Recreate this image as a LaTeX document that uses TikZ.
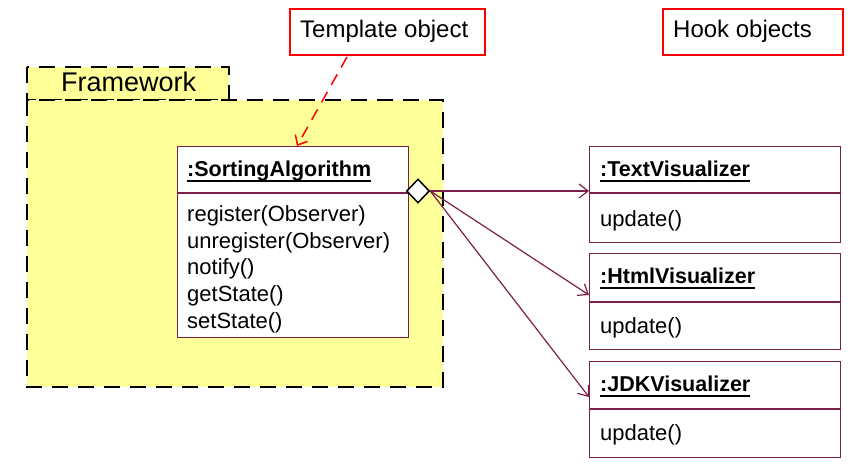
\documentclass[tikz,border=0pt]{standalone}
\usepackage{fontspec}
\setmainfont{Liberation Sans}
\usetikzlibrary{arrows.meta,shapes.geometric}
\definecolor{umlc}{RGB}{122,30,74}
\definecolor{pkgy}{RGB}{255,255,153}
\newcommand\myul[1]{\setbox0\hbox{#1}\rlap{\rule[-5.5pt]{\wd0}{1.8pt}}\box0}
\newcommand\fs[1]{\fontsize{#1}{#1}\selectfont}
\begin{document}
\begin{tikzpicture}[x=1pt,y=-1pt,
  pkg/.style={draw=black, line width=2pt, dash pattern=on 16pt off 10pt, fill=pkgy},
  objbox/.style={draw=umlc, line width=1.3pt, fill=white, rectangle, anchor=north west, inner sep=0pt, minimum width=251pt, minimum height=96pt},
  divline/.style={draw=umlc, line width=2pt},
  titletxt/.style={anchor=base west, inner sep=0pt, font=\fs{21.5}\bfseries},
  methtxt/.style={anchor=base west, inner sep=0pt, font=\fs{22}},
  callout/.style={draw=red, line width=1.5pt, fill=white, rectangle, anchor=north west, inner sep=0pt},
  callouttxt/.style={anchor=west, inner sep=0pt, font=\fs{24}},
  assoc/.style={draw=umlc, line width=1.2pt, -{Straight Barb[length=9pt,width=14pt,line width=1.2pt]}},
  note/.style={draw=red, line width=1.5pt, dash pattern=on 12pt off 8pt, -{Straight Barb[length=8pt,width=14pt,line width=1.5pt]}}
]
\useasboundingbox (0,0) rectangle (868,469);

% package
\path[pkg] (27,67) rectangle (229,100);
\path[pkg] (27,100) rectangle (443,387);
\node[anchor=base west, inner sep=0pt, font=\fs{27}] (fwlabel) at (61,91) {Framework};

% callouts
\node[callout, minimum width=195pt, minimum height=46pt] (tmpl) at (289,8) {};
\node[callouttxt] (tmpltxt) at (300,31) {Template object};
\node[callout, minimum width=180pt, minimum height=46pt] (hook) at (662,8) {};
\node[callouttxt] (hooktxt) at (673,31) {Hook objects};

% SortingAlgorithm
\node[objbox, minimum width=231pt, minimum height=191pt] (sa) at (177,146) {};
\coordinate (sadivl) at (177,193);
\coordinate (sadivr) at (408,193);
\draw[divline] (sadivl) -- (sadivr);
\node[titletxt] (satitle) at (187,176) {\myul{:SortingAlgorithm}};
\node[methtxt] (m1) at (187,221) {register(Observer)};
\node[methtxt] (m2) at (187,248) {unregister(Observer)};
\node[methtxt] (m3) at (187,274) {notify()};
\node[methtxt] (m4) at (187,301) {getState()};
\node[methtxt] (m5) at (187,328) {setState()};

% note arrow
\coordinate (notefrom) at (347,57);
\draw[note] (notefrom) -- (sa.north -| 297,0);

% visualizers
\node[objbox] (tv) at (589,146) {};
\coordinate (tvdl) at (589,193);
\coordinate (tvdr) at (840,193);
\draw[divline] (tvdl) -- (tvdr);
\node[titletxt] (tvt) at (600,176) {\myul{:TextVisualizer}};
\node[methtxt] (tvm) at (600,226) {update()};

\node[objbox] (hv) at (589,253) {};
\coordinate (hvdl) at (589,302);
\coordinate (hvdr) at (840,302);
\draw[divline] (hvdl) -- (hvdr);
\node[titletxt] (hvt) at (600,283) {\myul{:HtmlVisualizer}};
\node[methtxt] (hvm) at (600,333) {update()};

\node[objbox] (jv) at (589,361) {};
\coordinate (jvdl) at (589,409);
\coordinate (jvdr) at (840,409);
\draw[divline] (jvdl) -- (jvdr);
\node[titletxt] (jvt) at (600,391) {\myul{:JDKVisualizer}};
\node[methtxt] (jvm) at (600,440) {update()};

% diamond and associations
\node[diamond, draw=black, fill=white, line width=1.5pt, inner sep=0pt, minimum width=23pt, minimum height=24pt] (dia) at (418,191) {};
\coordinate (tvin) at (589,191);
\coordinate (hvin) at (589,295);
\coordinate (jvin) at (589,397);
\draw[assoc] (dia.east) -- (tvin);
\draw[assoc] (dia.east) -- (hvin);
\draw[assoc] (dia.east) -- (jvin);
\end{tikzpicture}
\end{document}
